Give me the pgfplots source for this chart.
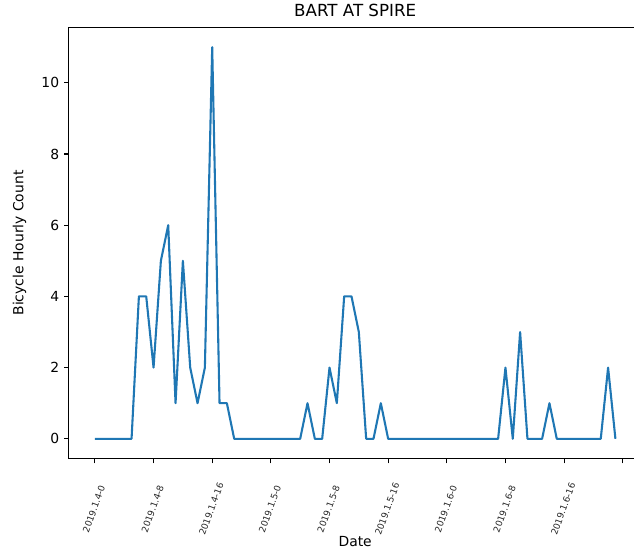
\documentclass[border=0pt]{standalone}
\usepackage{fontspec}
\setmainfont{DejaVu Sans}
\usepackage{pgfplots}
\pgfplotsset{compat=1.18}
\definecolor{mplblue}{HTML}{1F77B4}
\begin{document}
\begin{tikzpicture}
\begin{axis}[
  scale only axis,
  width=412pt, height=310pt,
  xmin=-3.55, xmax=74.55,
  ymin=-0.55, ymax=11.55,
  xtick={0,8,16,24,32,40,48,56,64,72},
  xticklabels={2019.1.4-0,2019.1.4-8,2019.1.4-16,2019.1.5-0,2019.1.5-8,2019.1.5-16,2019.1.6-0,2019.1.6-8,2019.1.6-16,{}},
  ytick={0,2,4,6,8,10},
  tick align=outside,
  tick pos=left,
  major tick length=3.5pt,
  every tick/.style={black, line width=0.8pt},
  axis line style={black, line width=0.8pt},
  /pgf/number format/assume math mode=true,
  yticklabel style={font=\fontsize{10}{12}\selectfont},
  xticklabel style={font=\fontsize{6.5}{7.5}\selectfont, rotate=70, anchor=center, text=black!85, xshift=-2pt},
  xticklabel shift=31pt,
  title={BART AT SPIRE},
  title style={font=\fontsize{12}{14}\selectfont, yshift=-2pt},
  xlabel={Date},
  xlabel style={at={(axis description cs:0.5,-0.192)}, anchor=center},
  ylabel={Bicycle Hourly Count},
  ylabel shift=4pt,
  label style={font=\fontsize{10}{12}\selectfont},
  clip=false,
]
\addplot[mplblue, line width=1.5pt, line join=round] coordinates {
(0,0)(1,0)(2,0)(3,0)(4,0)(5,0)(6,4)(7,4)(8,2)(9,5)(10,6)(11,1)(12,5)(13,2)(14,1)(15,2)
(16,11)(17,1)(18,1)(19,0)(20,0)(21,0)(22,0)(23,0)(24,0)(25,0)(26,0)(27,0)(28,0)(29,1)
(30,0)(31,0)(32,2)(33,1)(34,4)(35,4)(36,3)(37,0)(38,0)(39,1)(40,0)(41,0)(42,0)(43,0)
(44,0)(45,0)(46,0)(47,0)(48,0)(49,0)(50,0)(51,0)(52,0)(53,0)(54,0)(55,0)(56,2)(57,0)
(58,3)(59,0)(60,0)(61,0)(62,1)(63,0)(64,0)(65,0)(66,0)(67,0)(68,0)(69,0)(70,2)(71,0)
};
\coordinate (BL) at (rel axis cs:-0.1203,-0.2198);
\coordinate (TR) at (rel axis cs:0.987,1.064);
\end{axis}
\pgfresetboundingbox
\useasboundingbox (BL) rectangle (TR);
\end{tikzpicture}
\end{document}
